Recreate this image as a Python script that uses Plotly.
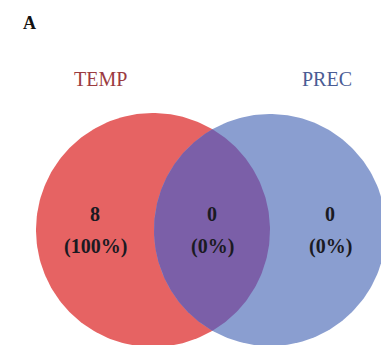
import numpy as np
import plotly.graph_objects as go

# ---- data ----
set_names = ["TEMP", "PREC"]
region_names = ["TEMP only", "TEMP & PREC", "PREC only"]
region_counts = [8, 0, 0]
panel_label = "A"

total = sum(region_counts)
region_pcts = [f"({round(100 * c / total)}%)" for c in region_counts]

# ---- geometry (screen-pixel-like coordinates on fixed axes) ----
W, H = 389, 345
OFF = 8  # page body margin
c1 = (153.0, 230.0); r1 = 117.0
c2 = (270.0, 230.0); r2 = 116.0

def circle_pts(c, r, a0=0, a1=2 * np.pi, n=240):
    t = np.linspace(a0, a1, n)
    return c[0] + r * np.cos(t), c[1] + r * np.sin(t)

d = c2[0] - c1[0]
a = (d**2 + r1**2 - r2**2) / (2 * d)
h = np.sqrt(r1**2 - a**2)
xi = c1[0] + a
th1 = np.arctan2(h, a)
th2 = np.arctan2(h, xi - c2[0])

red = "#E66363"
blue = "#8A9ED0"
purple = "#7B5FA8"

fig = go.Figure()
x, y = circle_pts(c1, r1)
fig.add_trace(go.Scatter(x=x, y=y, fill="toself", fillcolor=red, mode="lines",
                         line=dict(width=0), hoverinfo="skip", showlegend=False))
x, y = circle_pts(c2, r2)
fig.add_trace(go.Scatter(x=x, y=y, fill="toself", fillcolor=blue, mode="lines",
                         line=dict(width=0), hoverinfo="skip", showlegend=False))
xa, ya = circle_pts(c1, r1, -th1, th1, 120)
xb, yb = circle_pts(c2, r2, th2, 2 * np.pi - th2, 120)
fig.add_trace(go.Scatter(x=np.concatenate([xa, xb]), y=np.concatenate([ya, yb]),
                         fill="toself", fillcolor=purple, mode="lines",
                         line=dict(width=0), hoverinfo="skip", showlegend=False))

serif = "Liberation Serif"
anns = []
anns.append(dict(x=29, y=23, text=f"<b>{panel_label}</b>", showarrow=False,
                 font=dict(family=serif, size=18, color="#111111")))
set_pos = [(100, 79, "#9B3B3F"), (327, 79, "#4A5C94")]
for name, (px, py, col) in zip(set_names, set_pos):
    anns.append(dict(x=px, y=py, text=name, showarrow=False,
                     font=dict(family=serif, size=20, color=col)))
region_x = [95, 212, 330]
for rx, cnt, pct in zip(region_x, region_counts, region_pcts):
    anns.append(dict(x=rx, y=214, text=f"<b>{cnt}</b>", showarrow=False,
                     font=dict(family=serif, size=20, color="#1a1a22")))
    anns.append(dict(x=rx, y=246, text=f"<b>{pct}</b>", showarrow=False,
                     font=dict(family=serif, size=20, color="#1a1a22")))

FW, FH = W - OFF, H - OFF
fig.update_layout(
    width=FW, height=FH, margin=dict(l=0, r=0, t=0, b=0),
    paper_bgcolor="white", plot_bgcolor="white",
    xaxis=dict(range=[OFF, OFF + FW], visible=False, fixedrange=True),
    yaxis=dict(range=[OFF + FH, OFF], visible=False, fixedrange=True),
    annotations=anns,
)
fig.write_html("out.html")
